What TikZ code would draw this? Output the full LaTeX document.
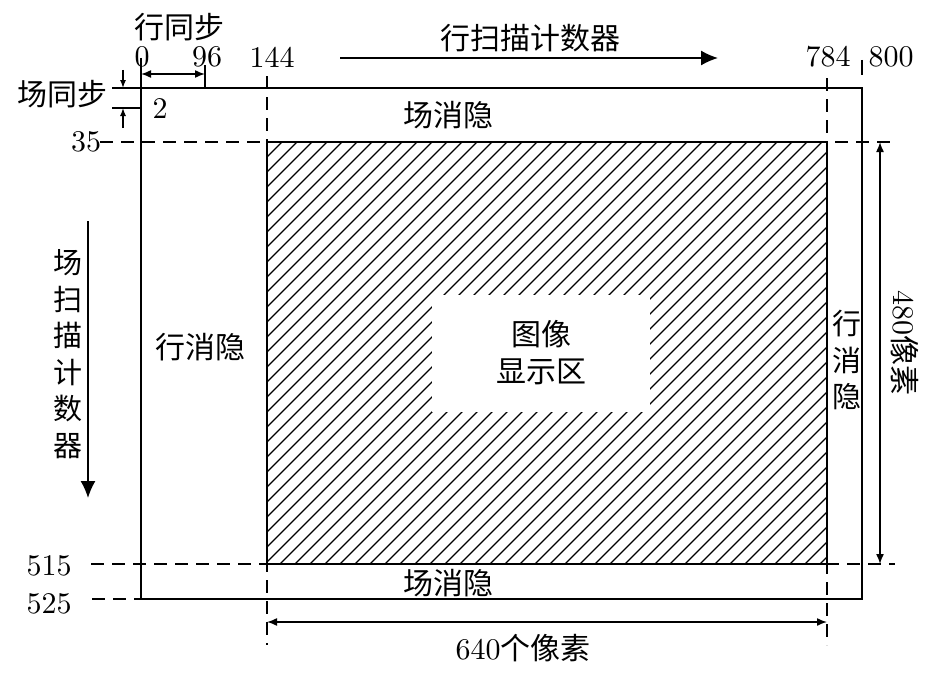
\documentclass[tikz,border=0pt]{standalone}
\usepackage{fontspec}
\newfontfamily\cjk{Noto Sans CJK SC}
\newfontfamily\numfont{lmroman10-regular.otf}
\usetikzlibrary{arrows.meta}
\begin{document}
\begin{tikzpicture}[x=1pt,y=-1pt,line width=1.5pt,
  lbl/.style={font=\cjk\fontsize{30}{32}\selectfont,inner sep=0pt},
  vstack/.style={font=\cjk\fontsize{29}{36.5}\selectfont,inner sep=0pt,align=center},
  num/.style={font=\numfont\fontsize{30}{32}\selectfont,inner sep=0pt},
  dsh/.style={dash pattern=on 13pt off 8pt},
  dimarrow/.style={{Latex[length=10pt,width=8pt]}-{Latex[length=10pt,width=8pt]}},
  smallarrow/.style={-{Latex[length=8pt,width=6pt]}},
  bigarrow/.style={-{Latex[length=17pt,width=15pt]}},
  hatchline/.style={line width=1.2pt}]
\useasboundingbox (0,0) rectangle (942,677);

% coordinates
\coordinate (TL) at (141,88);
\coordinate (BR) at (862,599);
\coordinate (HTL) at (267,142);
\coordinate (HBR) at (827,564);

% hatch
\begin{scope}
  \clip (HTL) rectangle (HBR);
  \foreach \i in {0,15,...,1020}
    \draw[hatchline] ({267+\i-440},{564+18}) -- ({267+\i+18},{142-18});
\end{scope}
\fill[white] (432,295) rectangle (650,412);
\draw (HTL) rectangle (HBR);

% outer frame
\draw (TL) rectangle (BR);
\coordinate (zeroTop) at (141,58);
\draw (zeroTop) -- (TL);
\coordinate (t96a) at (205,65);
\coordinate (t96b) at (205,88);
\draw (t96a) -- (t96b);

% dashed verticals
\coordinate (v144a) at (267,76);
\coordinate (v144b) at (267,645);
\coordinate (v784a) at (827,78);
\coordinate (v784b) at (827,645);
\coordinate (v800a) at (862,60);
\coordinate (v800b) at (862,75);
\draw[dsh] (v144a) -- (v144b);
\draw[dsh] (v784a) -- (v784b);
\draw (v800a) -- (v800b);

% dashed horizontals
\coordinate (h35a) at (100,142);
\coordinate (h35b) at (895,142);
\coordinate (h515a) at (91,564);
\coordinate (h515b) at (895,564);
\coordinate (h525a) at (92,599);
\coordinate (h525b) at (141,599);
\draw[dsh] (h35a) -- (h35b);
\draw[dsh] (h515a) -- (h515b);
\draw[dsh] (h525a) -- (h525b);

% field sync marks
\coordinate (fs1a) at (112,88);
\coordinate (fs2a) at (112,108);
\coordinate (fs2b) at (141,108);
\draw (fs1a) -- (TL);
\draw (fs2a) -- (fs2b);
\coordinate (fsd0) at (123,70);
\coordinate (fsd1) at (123,88);
\coordinate (fsu0) at (123,128);
\coordinate (fsu1) at (123,108);
\draw[smallarrow,line width=1.3pt] (fsd0) -- (fsd1);
\draw[smallarrow,line width=1.3pt] (fsu0) -- (fsu1);

% line sync arrow
\coordinate (ls0) at (141,74);
\coordinate (ls1) at (205,74);
\draw[dimarrow] (ls0) -- (ls1);

% dimension arrows
\coordinate (d640a) at (267,622);
\coordinate (d640b) at (827,622);
\draw[dimarrow] (d640a) -- (d640b);
\coordinate (d480a) at (880,142);
\coordinate (d480b) at (880,564);
\draw[dimarrow] (d480a) -- (d480b);

% counter arrows
\coordinate (hc0) at (340,58);
\coordinate (hc1) at (718,58);
\draw[bigarrow] (hc0) -- (hc1);
\coordinate (vc0) at (88,221);
\coordinate (vc1) at (88,498);
\draw[bigarrow] (vc0) -- (vc1);

% labels
\node[lbl] (hsync) at (179,27) {行同步};
\node[lbl] (vsync) at (62,94) {场同步};
\node[num] (n0) at (142,57) {0};
\node[num] (n96) at (207,57) {96};
\node[num] (n144) at (272,57) {144};
\node[num] (n784) at (828,57) {784};
\node[num] (n800) at (891,57) {800};
\node[num] (n2) at (160,109) {2};
\node[num] (n35) at (86,142) {35};
\node[num] (n515) at (49,566) {515};
\node[num] (n525) at (49,604) {525};
\node[lbl] (hcount) at (530,38) {行扫描计数器};
\node[lbl] (vbtop) at (448,115) {场消隐};
\node[lbl] (vbbot) at (448,583) {场消隐};
\node[lbl] (hbleft) at (200,347) {行消隐};
\node[vstack] (hbright) at (847,360) {行\\消\\隐};
\node[vstack] (vcount) at (68,354) {场\\扫\\描\\计\\数\\器};
\node[lbl,align=center,font=\cjk\fontsize{30}{37}\selectfont] (disp) at (541,353) {图像\\显示区};
\node[lbl,rotate=-90] (p480) at (905,343) {{\numfont 480}像素};
\node[lbl] (p640) at (523,648) {{\numfont 640}个像素};
\end{tikzpicture}
\end{document}
